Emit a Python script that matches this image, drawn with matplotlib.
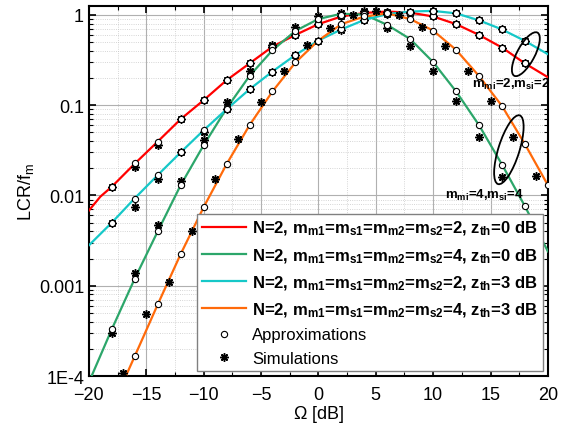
import matplotlib
matplotlib.use("Agg")
import matplotlib.pyplot as plt
import matplotlib.transforms as transforms
from matplotlib.patches import Ellipse
from matplotlib.lines import Line2D
import numpy as np

plt.rcParams['font.family'] = ['Liberation Sans', 'DejaVu Sans']
plt.rcParams['mathtext.fontset'] = 'custom'
plt.rcParams['mathtext.rm'] = 'Liberation Sans'
plt.rcParams['mathtext.it'] = 'Liberation Sans'
plt.rcParams['mathtext.bf'] = 'Liberation Sans:bold'

# analytical curves (LCR / f_m vs Omega in dB)
red_x = [-20, -19, -18, -16, -14, -12, -10, -8, -6, -4, -2, 0, 2, 4, 6, 8, 10, 12, 14, 16, 18, 20]
red_y = [0.0068, 0.0097, 0.0125, 0.0225, 0.0395, 0.070, 0.1135, 0.189, 0.29, 0.445, 0.60, 0.79,
         0.96, 1.05, 1.09, 1.06, 0.96, 0.79, 0.60, 0.435, 0.29, 0.204]

green_x = [-20, -18, -16, -14, -12, -10, -8, -6, -4, -2, 0, 2, 4, 6, 8, 10, 12, 14, 16, 18, 20]
green_y = [8.5e-5, 3.3e-4, 0.0012, 0.0040, 0.013, 0.036, 0.092, 0.211, 0.406, 0.665, 0.90,
           1.03, 1.01, 0.775, 0.54, 0.30, 0.142, 0.060, 0.022, 0.0076, 0.0024]

cyan_x = [-20, -18, -16, -14, -12, -10, -8, -6, -4, -2, 0, 2, 4, 6, 8, 10, 12, 14, 16, 18, 20]
cyan_y = [0.0028, 0.0050, 0.0093, 0.0168, 0.030, 0.0527, 0.090, 0.150, 0.236, 0.36, 0.52,
          0.69, 0.88, 1.02, 1.09, 1.107, 1.04, 0.87, 0.69, 0.515, 0.367]

orange_x = [-18, -16, -14, -12, -10, -8, -6, -4, -2, 0, 2, 4, 6, 8, 10, 12, 14, 16, 18, 20]
orange_y = [4.5e-5, 1.66e-4, 6.2e-4, 0.00224, 0.0074, 0.0222, 0.060, 0.142, 0.297, 0.52,
            0.79, 0.96, 1.04, 0.90, 0.67, 0.41, 0.21, 0.098, 0.037, 0.013]

# approximations (circles)
red_ap_x = [-18, -16, -14, -12, -10, -8, -6, -4, -2, 0, 2, 4, 6, 8, 10, 12, 14, 16, 18]
red_ap_y = [0.0125, 0.0226, 0.0395, 0.070, 0.1135, 0.189, 0.29, 0.445, 0.60, 0.79,
            0.96, 1.05, 1.09, 1.06, 0.96, 0.79, 0.60, 0.435, 0.29]
green_ap_x = [-18, -16, -14, -12, -10, -8, -6, -4, -2, 0, 2, 4, 6, 8, 10, 12, 14, 16, 18]
green_ap_y = [3.3e-4, 0.00119, 0.0040, 0.013, 0.036, 0.092, 0.211, 0.406, 0.665, 0.90,
              1.0, 1.02, 0.775, 0.54, 0.30, 0.142, 0.060, 0.022, 0.0076]
cyan_ap_x = [-18, -16, -14, -12, -10, -8, -6, -4, -2, 0, 2, 4, 6, 8, 10, 12, 14, 16, 18]
cyan_ap_y = [0.0050, 0.0091, 0.0168, 0.030, 0.0527, 0.090, 0.150, 0.236, 0.36, 0.52,
             0.69, 0.88, 1.02, 1.09, 1.107, 1.04, 0.87, 0.69, 0.515]
orange_ap_x = [-16, -14, -12, -10, -8, -6, -4, -2, 0, 2, 4, 6, 8, 10, 12, 14, 16, 18, 20]
orange_ap_y = [1.66e-4, 6.2e-4, 0.00224, 0.0074, 0.0222, 0.060, 0.142, 0.297, 0.52, 0.79,
               0.96, 1.04, 0.90, 0.67, 0.41, 0.21, 0.098, 0.037, 0.013]

# simulations (stars)
red_sim_x = [-18, -16, -14, -12, -10, -8, -6, -4, -2, 0, 2, 4, 6, 8, 10, 12, 14, 16, 18]
red_sim_y = [0.0125, 0.0204, 0.036, 0.070, 0.1135, 0.189, 0.29, 0.445, 0.60, 0.79,
             0.96, 1.05, 1.09, 1.06, 0.96, 0.79, 0.60, 0.435, 0.29]
green_sim_x = [-18, -16, -14, -12, -10, -8, -6, -4, -2, 0, 2, 4, 6, 8, 10, 12, 14, 16]
green_sim_y = [2.96e-4, 0.00138, 0.0047, 0.0145, 0.041, 0.109, 0.24, 0.465, 0.74, 0.975,
               1.06, 1.107, 0.71, 0.45, 0.24, 0.110, 0.044, 0.016]
cyan_sim_x = [-18, -16, -14, -12, -10, -8, -6, -4, -2, 0, 2, 4, 6, 8, 10, 12, 14, 16, 18]
cyan_sim_y = [0.0050, 0.0075, 0.0151, 0.030, 0.050, 0.090, 0.150, 0.236, 0.36, 0.52,
              0.68, 0.88, 1.02, 1.09, 1.107, 1.04, 0.87, 0.69, 0.515]
orange_sim_x = [-17, -15, -13, -11, -9, -7, -5, -3, -1, 1, 3, 5, 7, 9, 11, 13, 15, 17, 19]
orange_sim_y = [1.09e-4, 4.9e-4, 0.00111, 0.0040, 0.0151, 0.0427, 0.109, 0.24, 0.46, 0.72,
                0.99, 1.11, 1.0, 0.74, 0.45, 0.24, 0.11, 0.044, 0.0165]

labels = [
    r'N=2, m$_{\mathbf{m1}}$=m$_{\mathbf{s1}}$=m$_{\mathbf{m2}}$=m$_{\mathbf{s2}}$=2, z$_{\mathbf{th}}$=0 dB',
    r'N=2, m$_{\mathbf{m1}}$=m$_{\mathbf{s1}}$=m$_{\mathbf{m2}}$=m$_{\mathbf{s2}}$=4, z$_{\mathbf{th}}$=0 dB',
    r'N=2, m$_{\mathbf{m1}}$=m$_{\mathbf{s1}}$=m$_{\mathbf{m2}}$=m$_{\mathbf{s2}}$=2, z$_{\mathbf{th}}$=3 dB',
    r'N=2, m$_{\mathbf{m1}}$=m$_{\mathbf{s1}}$=m$_{\mathbf{m2}}$=m$_{\mathbf{s2}}$=4, z$_{\mathbf{th}}$=3 dB',
]
colors = ['#ff0000', '#2ca66a', '#16c8c8', '#ff6a0a']

yticks = [1e-4, 1e-3, 1e-2, 1e-1, 1]
yticklabels = ['1E-4', '0.001', '0.01', '0.1', '1']
xticks = [-20, -15, -10, -5, 0, 5, 10, 15, 20]

fig = plt.figure(figsize=(5.66, 4.35), dpi=100)
ax = fig.add_axes([0.157, 0.1333, 0.811, 0.851])

series = [
    (red_x, red_y, red_ap_x, red_ap_y, red_sim_x, red_sim_y),
    (green_x, green_y, green_ap_x, green_ap_y, green_sim_x, green_sim_y),
    (cyan_x, cyan_y, cyan_ap_x, cyan_ap_y, cyan_sim_x, cyan_sim_y),
    (orange_x, orange_y, orange_ap_x, orange_ap_y, orange_sim_x, orange_sim_y),
]

star = (8, 2, 0)
for (lx, ly, ax_x, ax_y, sx, sy), c in zip(series, colors):
    ax.plot(lx, ly, color=c, lw=1.6, zorder=3)
for (lx, ly, ax_x, ax_y, sx, sy), c in zip(series, colors):
    ax.plot(sx, sy, ls='none', marker=star, ms=6, mew=1.1, mec='black', zorder=4)
    ax.plot(ax_x, ax_y, ls='none', marker='o', ms=4.5, mfc='white', mec='black', mew=0.8, zorder=5)

ax.set_yscale('log')
ax.set_xlim(-20, 20)
ax.set_ylim(1e-4, 1.26)
ax.set_xticks(xticks)
ax.set_xticks(np.arange(-17.5, 20, 5), minor=True)
ax.set_yticks(yticks)
ax.set_yticklabels(yticklabels)

ax.grid(which='major', linestyle='-', linewidth=0.8, color='#b0b0b0')
ax.grid(which='minor', linestyle=':', linewidth=0.6, color='#c8c8c8')
ax.set_axisbelow(True)

ax.tick_params(which='both', direction='in', top=True, right=True, labelsize=13)
ax.tick_params(which='major', length=5, width=1.2)
ax.tick_params(axis='x', which='major', pad=7)
ax.tick_params(which='minor', length=3, width=0.8)
for s in ax.spines.values():
    s.set_linewidth(1.5)

ax.set_xlabel(r'$\Omega$ [dB]', fontsize=13, labelpad=0)
ax.set_ylabel(r'LCR/f$_\mathrm{m}$', fontsize=13, labelpad=2)

# ellipses around curve groups, sized in inches at a data location
def ring(cx, cy, w, h, angle):
    tr = fig.dpi_scale_trans + transforms.ScaledTranslation(cx, cy, ax.transData)
    e = Ellipse((0, 0), w, h, angle=angle, fill=False, ec='black', lw=1.3, transform=tr, zorder=6)
    ax.add_patch(e)

ring(18.08, 0.367, 0.49, 0.176, 61.7)
ring(16.6, 0.0321, 0.72, 0.21, 72.5)

ax.text(13.35, 0.159, r'm$_{\mathbf{mi}}$=2,m$_{\mathbf{si}}$=2, z$_{\mathbf{th}}$=0,3 dB', fontsize=9.5,
        fontweight='bold', clip_on=True, zorder=7)
ax.text(11.0, 0.0093, r'm$_{\mathbf{mi}}$=4,m$_{\mathbf{si}}$=4', fontsize=9.5, fontweight='bold', zorder=7)

handles = [Line2D([], [], color=c, lw=1.6) for c in colors]
handles.append(Line2D([], [], ls='none', marker='o', ms=4.5, mfc='white', mec='black', mew=0.8))
handles.append(Line2D([], [], ls='none', marker=star, ms=6, mew=1.1, mec='black'))
leg = ax.legend(handles, labels + ['Approximations', 'Simulations'], loc='lower right',
                fontsize=12, frameon=True, fancybox=False, framealpha=1, edgecolor='#808080',
                borderaxespad=0.3, handlelength=2.6, handletextpad=0.4, borderpad=0.3,
                labelspacing=0.52)
leg.get_frame().set_linewidth(1.0)
leg.set_zorder(8)
for t in leg.get_texts()[:4]:
    t.set_fontweight('bold')

fig.savefig('out.png', dpi=100)
